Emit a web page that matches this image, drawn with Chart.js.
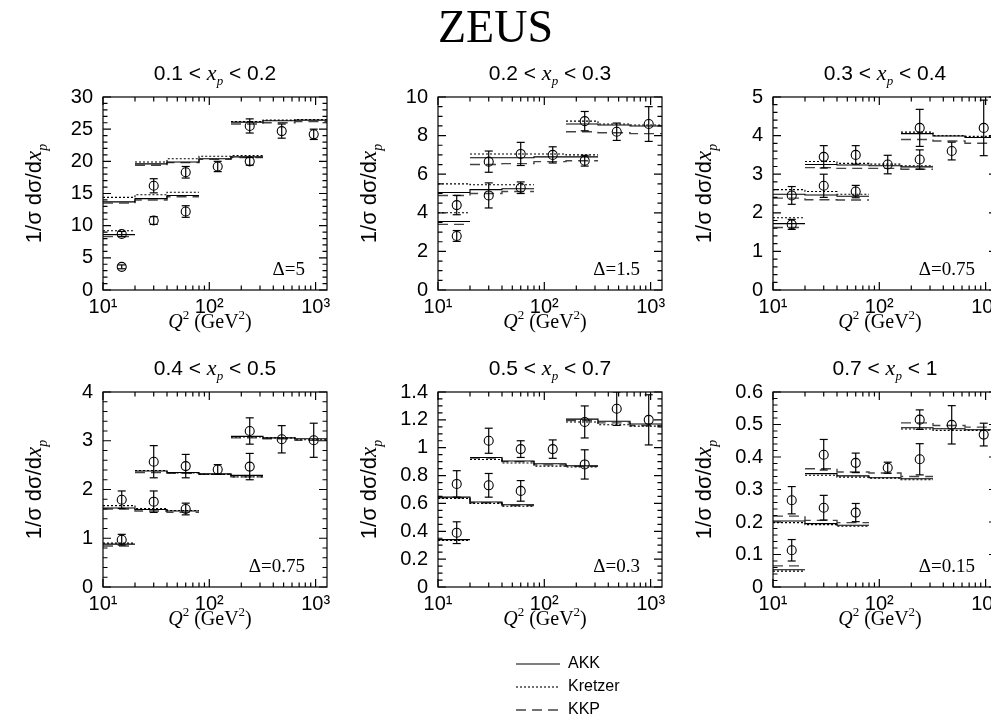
<!DOCTYPE html>
<html><head><meta charset="utf-8">
<script src="https://cdn.jsdelivr.net/npm/chart.js@4.4.0/dist/chart.umd.min.js"></script>
<style>
html,body{margin:0;padding:0;background:#fff;width:991px;height:723px;overflow:hidden;position:relative}
canvas{position:absolute}
</style></head><body>
<script>
// ---------------- data ----------------
const Q2_EDGES   = [10, 20, 40, 80, 160, 320, 640, 1280];
const Q2_CENTRES = [15, 30, 60, 120, 240, 480, 960];
// each measured value: the Q2 bin it belongs to and the shifted set (group) it is part of
const POINT_BIN   = [0, 0, 1, 2, 1, 2, 3, 4, 4, 5, 6];
const POINT_GROUP = [0, 1, 1, 1, 2, 2, 2, 2, 3, 3, 3];

const XP_LOW  = ['0.1', '0.2', '0.3', '0.4', '0.5', '0.7'];
const XP_HIGH = ['0.2', '0.3', '0.4', '0.5', '0.7', '1'];
const DELTA_LABELS = ['Δ=5', 'Δ=1.5', 'Δ=0.75', 'Δ=0.75', 'Δ=0.3', 'Δ=0.15'];
const Y_MAX   = [30, 10, 5, 4, 1.4, 0.6];
const Y_STEP  = [5, 2, 1, 1, 0.2, 0.1];
const Y_MINOR = [1, 0.5, 0.2, 0.2, 0.05, 0.02];
const X_TICK_VALUES = [10, 100, 1000];
const X_TICK_LABELS = ['10¹', '10²', '10³'];
const X_MINOR = [20, 30, 40, 50, 60, 70, 80, 90, 200, 300, 400, 500, 600, 700, 800, 900];
const LEGEND_LABELS = ['AKK', 'Kretzer', 'KKP'];

// 0.1 < xp < 0.2
const data_xp1    = [3.6, 8.7, 10.8, 12.2, 16.2, 18.3, 19.2, 20.0, 25.5, 24.7, 24.2];
const err_xp1     = [0.3, 0.4, 0.6, 0.9, 1.1, 0.9, 0.8, 0.6, 1.1, 1.1, 0.8];
const akk_xp1     = [8.6, 13.7, 14.2, 14.7, 19.6, 19.9, 20.4, 20.7, 26.1, 26.3, 26.4];
const kretzer_xp1 = [9.2, 14.4, 14.8, 15.2, 19.9, 20.4, 20.8, 20.9, 26.2, 26.4, 26.5];
const kkp_xp1     = [8.3, 13.5, 14.0, 14.5, 19.4, 19.8, 20.3, 20.6, 25.8, 26.0, 26.2];
// 0.2 < xp < 0.3
const data_xp2    = [2.8, 4.4, 4.9, 5.3, 6.65, 7.05, 7.0, 6.7, 8.75, 8.2, 8.6];
const err_xp2     = [0.28, 0.5, 0.65, 0.3, 0.55, 0.6, 0.42, 0.28, 0.5, 0.45, 0.9];
const akk_xp2     = [3.55, 5.05, 5.2, 5.25, 6.85, 6.85, 6.9, 6.9, 8.6, 8.55, 8.5];
const kretzer_xp2 = [4.0, 5.5, 5.45, 5.45, 7.05, 7.05, 7.05, 7.0, 8.75, 8.6, 8.55];
const kkp_xp2     = [3.4, 4.9, 5.0, 5.1, 6.5, 6.55, 6.65, 6.7, 8.2, 8.15, 8.1];
// 0.3 < xp < 0.4
const data_xp3    = [1.7, 2.45, 2.7, 2.55, 3.45, 3.5, 3.25, 3.38, 4.2, 3.6, 4.2];
const err_xp3     = [0.13, 0.23, 0.3, 0.16, 0.29, 0.24, 0.24, 0.25, 0.48, 0.23, 0.72];
const akk_xp3     = [1.72, 2.48, 2.46, 2.43, 3.25, 3.24, 3.22, 3.19, 4.05, 3.99, 3.95];
const kretzer_xp3 = [1.87, 2.6, 2.55, 2.48, 3.33, 3.28, 3.26, 3.22, 4.09, 4.0, 3.98];
const kkp_xp3     = [1.62, 2.38, 2.34, 2.33, 3.17, 3.15, 3.15, 3.13, 3.9, 3.86, 3.8];
// 0.4 < xp < 0.5
const data_xp4    = [0.97, 1.79, 1.75, 1.6, 2.57, 2.48, 2.41, 2.47, 3.2, 3.03, 3.01];
const err_xp4     = [0.11, 0.18, 0.22, 0.12, 0.33, 0.24, 0.1, 0.27, 0.27, 0.28, 0.35];
const akk_xp4     = [0.88, 1.62, 1.59, 1.56, 2.38, 2.35, 2.32, 2.29, 3.09, 3.06, 3.04];
const kretzer_xp4 = [0.9, 1.67, 1.61, 1.57, 2.39, 2.34, 2.31, 2.26, 3.08, 3.06, 3.02];
const kkp_xp4     = [0.84, 1.6, 1.56, 1.53, 2.35, 2.33, 2.31, 2.26, 3.06, 3.04, 3.01];
// 0.5 < xp < 0.7
const data_xp5    = [0.39, 0.74, 0.73, 0.69, 1.05, 0.99, 0.99, 0.88, 1.185, 1.28, 1.2];
const err_xp5     = [0.078, 0.095, 0.085, 0.074, 0.09, 0.06, 0.066, 0.105, 0.115, 0.12, 0.18];
const akk_xp5     = [0.34, 0.645, 0.61, 0.59, 0.93, 0.905, 0.885, 0.87, 1.205, 1.19, 1.17];
const kretzer_xp5 = [0.335, 0.635, 0.6, 0.58, 0.915, 0.89, 0.868, 0.862, 1.185, 1.165, 1.155];
const kkp_xp5     = [0.34, 0.64, 0.605, 0.585, 0.925, 0.9, 0.877, 0.866, 1.195, 1.178, 1.16];
// 0.7 < xp < 1
const data_xp6    = [0.113, 0.267, 0.244, 0.229, 0.407, 0.382, 0.367, 0.393, 0.515, 0.499, 0.469];
const err_xp6     = [0.033, 0.042, 0.038, 0.028, 0.047, 0.03, 0.017, 0.048, 0.03, 0.059, 0.035];
const akk_xp6     = [0.053, 0.203, 0.195, 0.19, 0.349, 0.342, 0.336, 0.333, 0.49, 0.487, 0.484];
const kretzer_xp6 = [0.049, 0.198, 0.192, 0.187, 0.344, 0.338, 0.335, 0.33, 0.486, 0.482, 0.482];
const kkp_xp6     = [0.065, 0.218, 0.205, 0.198, 0.364, 0.354, 0.351, 0.34, 0.505, 0.497, 0.492];

const PANEL_DATA    = [data_xp1, data_xp2, data_xp3, data_xp4, data_xp5, data_xp6];
const PANEL_ERR     = [err_xp1, err_xp2, err_xp3, err_xp4, err_xp5, err_xp6];
const PANEL_AKK     = [akk_xp1, akk_xp2, akk_xp3, akk_xp4, akk_xp5, akk_xp6];
const PANEL_KRETZER = [kretzer_xp1, kretzer_xp2, kretzer_xp3, kretzer_xp4, kretzer_xp5, kretzer_xp6];
const PANEL_KKP     = [kkp_xp1, kkp_xp2, kkp_xp3, kkp_xp4, kkp_xp5, kkp_xp6];

// ---------------- layout / style ----------------
const COL_LEFT = [103, 438, 773];
const ROW_TOP = [97, 392];
const PLOT_W = 224;
const PLOT_H = [193, 195];
const PAD_LEFT = 100, PAD_TOP = 45, PAD_RIGHT = 12, PAD_BOTTOM = 60;
const SANS = '"Liberation Sans", Arial, Helvetica, sans-serif';
const SERIF = '"Liberation Serif", "Times New Roman", serif';

Chart.defaults.color = '#000';
Chart.defaults.font.family = SANS;

const STYLE = {
  akk:     {borderColor: '#000', borderWidth: 1.1, borderDash: []},
  kretzer: {borderColor: '#000', borderWidth: 1.1, borderDash: [2, 2]},
  kkp:     {borderColor: '#444', borderWidth: 1.4, borderDash: [10, 6]}
};

function stepSeries(vals) {
  const out = [];
  for (let g = 0; g < 4; g++) {
    const idx = [];
    POINT_GROUP.forEach((gg, k) => { if (gg === g) idx.push(k); });
    if (out.length) out.push({x: Q2_EDGES[POINT_BIN[idx[0]]], y: null});
    idx.forEach(k => out.push({x: Q2_EDGES[POINT_BIN[k]], y: vals[k]}));
    const last = idx[idx.length - 1];
    out.push({x: Q2_EDGES[POINT_BIN[last] + 1], y: vals[last]});
  }
  return out;
}
function errorSeries(vals, errs) {
  const out = [];
  vals.forEach((v, k) => {
    const x = Q2_CENTRES[POINT_BIN[k]];
    out.push({x, y: v - errs[k]}, {x, y: v + errs[k]}, {x, y: null});
  });
  return out;
}
function pointSeries(vals) {
  return vals.map((v, k) => ({x: Q2_CENTRES[POINT_BIN[k]], y: v}));
}

function drawRich(ctx, segs, x, y) {
  for (const s of segs) {
    ctx.font = s.f;
    ctx.fillText(s.t, x + (s.dx || 0), y + (s.dy || 0));
    x += ctx.measureText(s.t).width + (s.dx || 0);
  }
}
function richWidth(ctx, segs) {
  let w = 0;
  for (const s of segs) { ctx.font = s.f; w += ctx.measureText(s.t).width + (s.dx || 0); }
  return w;
}

const decorPlugin = {
  id: 'decor',
  afterDraw(chart, args, o) {
    const ctx = chart.ctx, a = chart.chartArea, xs = chart.scales.x, ys = chart.scales.y;
    ctx.save();
    ctx.strokeStyle = '#000';
    ctx.lineWidth = 1.2;
    ctx.setLineDash([]);
    ctx.beginPath();
    const MAJ = 8, MIN = 4.5;
    const n = Math.round(o.ymax / o.yminor);
    for (let i = 0; i <= n; i++) {
      const v = i * o.yminor;
      const y = ys.getPixelForValue(v);
      const r = v / o.ystep;
      const L = Math.abs(r - Math.round(r)) < 1e-6 ? MAJ : MIN;
      ctx.moveTo(a.left, y); ctx.lineTo(a.left + L, y);
      ctx.moveTo(a.right, y); ctx.lineTo(a.right - L, y);
    }
    const xt = X_TICK_VALUES.map(v => [v, MAJ]).concat(X_MINOR.map(v => [v, MIN]));
    for (const [v, L] of xt) {
      const x = xs.getPixelForValue(v);
      if (x < a.left - 0.5 || x > a.right + 0.5) continue;
      ctx.moveTo(x, a.bottom); ctx.lineTo(x, a.bottom - L);
      ctx.moveTo(x, a.top); ctx.lineTo(x, a.top + L);
    }
    ctx.stroke();
    ctx.strokeRect(a.left, a.top, a.right - a.left, a.bottom - a.top);

    ctx.fillStyle = '#000';
    ctx.textBaseline = 'alphabetic';
    ctx.textAlign = 'left';
    const cx = (a.left + a.right) / 2;
    // panel title
    const title = [
      {t: o.lo + ' < ', f: '21px ' + SANS},
      {t: 'x', f: 'italic 22px ' + SERIF},
      {t: 'p', f: 'italic 13px ' + SERIF, dy: 5},
      {t: ' < ' + o.hi, f: '21px ' + SANS}
    ];
    drawRich(ctx, title, cx - richWidth(ctx, title) / 2, a.top - 17);
    // x axis title
    const xt2 = [
      {t: 'Q', f: 'italic 20px ' + SERIF},
      {t: '2', f: '13px ' + SERIF, dy: -9},
      {t: ' (GeV', f: '20px ' + SERIF},
      {t: '2', f: '13px ' + SERIF, dy: -9},
      {t: ')', f: '20px ' + SERIF}
    ];
    drawRich(ctx, xt2, cx - 5 - richWidth(ctx, xt2) / 2, a.bottom + 38);
    // y axis title
    const yt = [
      {t: '1/σ dσ/d', f: '22px ' + SANS},
      {t: 'x', f: 'italic 23px ' + SERIF},
      {t: 'p', f: 'italic 14px ' + SERIF, dy: 6}
    ];
    ctx.save();
    ctx.translate(a.left - 62, (a.top + a.bottom) / 2);
    ctx.rotate(-Math.PI / 2);
    drawRich(ctx, yt, -richWidth(ctx, yt) / 2, 0);
    ctx.restore();
    // delta label
    ctx.font = '19px ' + SERIF;
    ctx.textAlign = 'right';
    ctx.fillText(o.delta, a.right - 22, a.bottom - 15);
    ctx.restore();
  }
};

function addCanvas(left, top, w, h, z) {
  const c = document.createElement('canvas');
  c.width = w; c.height = h;
  c.style.left = left + 'px'; c.style.top = top + 'px';
  c.style.width = w + 'px'; c.style.height = h + 'px';
  c.style.zIndex = z;
  document.body.appendChild(c);
  return c;
}

// background chart: main title
new Chart(addCanvas(0, 0, 991, 723, 0), {
  type: 'line',
  data: {datasets: []},
  options: {
    responsive: false, animation: false, events: [], devicePixelRatio: 1,
    scales: {x: {display: false}, y: {display: false}},
    plugins: {
      legend: {display: false}, tooltip: {enabled: false},
      title: {display: true, text: 'ZEUS', color: '#000',
        font: {family: SERIF, size: 46, weight: 'normal'}, padding: {top: 2, bottom: 0}}
    }
  }
});

for (let i = 0; i < 6; i++) {
  const col = i % 3, row = Math.floor(i / 3);
  const L = COL_LEFT[col], T = ROW_TOP[row], H = PLOT_H[row];
  const cw = PAD_LEFT + PLOT_W + PAD_RIGHT, ch = PAD_TOP + H + PAD_BOTTOM;
  const canvas = addCanvas(L - PAD_LEFT, T - PAD_TOP, cw, ch, 1 + i);
  new Chart(canvas, {
    type: 'line',
    data: {
      datasets: [
        {label: 'data', data: pointSeries(PANEL_DATA[i]), showLine: false,
          pointStyle: 'circle', pointRadius: 4.5, pointBackgroundColor: 'rgba(0,0,0,0)',
          pointBorderColor: '#000', pointBorderWidth: 1.1},
        {label: 'err', data: errorSeries(PANEL_DATA[i], PANEL_ERR[i]), borderColor: '#000',
          borderWidth: 1.2, pointStyle: 'line', pointRadius: 4, pointBorderColor: '#000',
          pointBorderWidth: 1.2, spanGaps: false},
        Object.assign({label: 'AKK', data: stepSeries(PANEL_AKK[i]), stepped: true,
          pointRadius: 0, spanGaps: false}, STYLE.akk),
        Object.assign({label: 'Kretzer', data: stepSeries(PANEL_KRETZER[i]), stepped: true,
          pointRadius: 0, spanGaps: false}, STYLE.kretzer),
        Object.assign({label: 'KKP', data: stepSeries(PANEL_KKP[i]), stepped: true,
          pointRadius: 0, spanGaps: false}, STYLE.kkp)
      ]
    },
    options: {
      responsive: false, animation: false, events: [], devicePixelRatio: 1,
      layout: {padding: {top: PAD_TOP, right: PAD_RIGHT, left: 0, bottom: 0}},
      scales: {
        x: {
          type: 'logarithmic', min: Q2_EDGES[0], max: Q2_EDGES[Q2_EDGES.length - 1],
          grid: {display: false, drawTicks: false}, border: {display: false},
          afterBuildTicks: s => { s.ticks = X_TICK_VALUES.map(v => ({value: v, major: true})); },
          afterFit: s => { s.height = PAD_BOTTOM; },
          ticks: {autoSkip: false, maxRotation: 0, padding: 5, color: '#000',
            font: {size: 20, family: SANS},
            callback: v => X_TICK_LABELS[X_TICK_VALUES.indexOf(v)]}
        },
        y: {
          type: 'linear', min: 0, max: Y_MAX[i],
          grid: {display: false, drawTicks: false}, border: {display: false},
          afterFit: s => { s.width = PAD_LEFT; },
          ticks: {stepSize: Y_STEP[i], padding: 10, color: '#000',
            font: {size: 20, family: SANS},
            callback: v => String(+(+v).toFixed(3))}
        }
      },
      plugins: {
        legend: {display: false}, tooltip: {enabled: false}, title: {display: false},
        decor: {ymax: Y_MAX[i], ystep: Y_STEP[i], yminor: Y_MINOR[i],
          lo: XP_LOW[i], hi: XP_HIGH[i], delta: DELTA_LABELS[i]}
      }
    },
    plugins: [decorPlugin]
  });
}

// legend chart
const legendKeys = ['akk', 'kretzer', 'kkp'];
new Chart(addCanvas(509, 649, 120, 200, 10), {
  type: 'line',
  data: {datasets: LEGEND_LABELS.map((lab, k) => Object.assign({label: lab, data: []}, STYLE[legendKeys[k]]))},
  options: {
    responsive: false, animation: false, events: [], devicePixelRatio: 1,
    layout: {padding: 0},
    scales: {x: {display: false}, y: {display: false}},
    plugins: {
      tooltip: {enabled: false},
      legend: {
        display: true, position: 'top', align: 'start',
        labels: {
          usePointStyle: true, pointStyleWidth: 44, padding: 7, color: '#000',
          font: {size: 16, family: SANS},
          generateLabels: chart => chart.data.datasets.map((ds, k) => ({
            text: ds.label, fillStyle: 'rgba(0,0,0,0)', strokeStyle: ds.borderColor,
            lineWidth: ds.borderWidth, lineDash: ds.borderDash, pointStyle: 'line',
            hidden: false, datasetIndex: k, fontColor: '#000'
          }))
        }
      }
    }
  }
});
</script>
</body></html>
